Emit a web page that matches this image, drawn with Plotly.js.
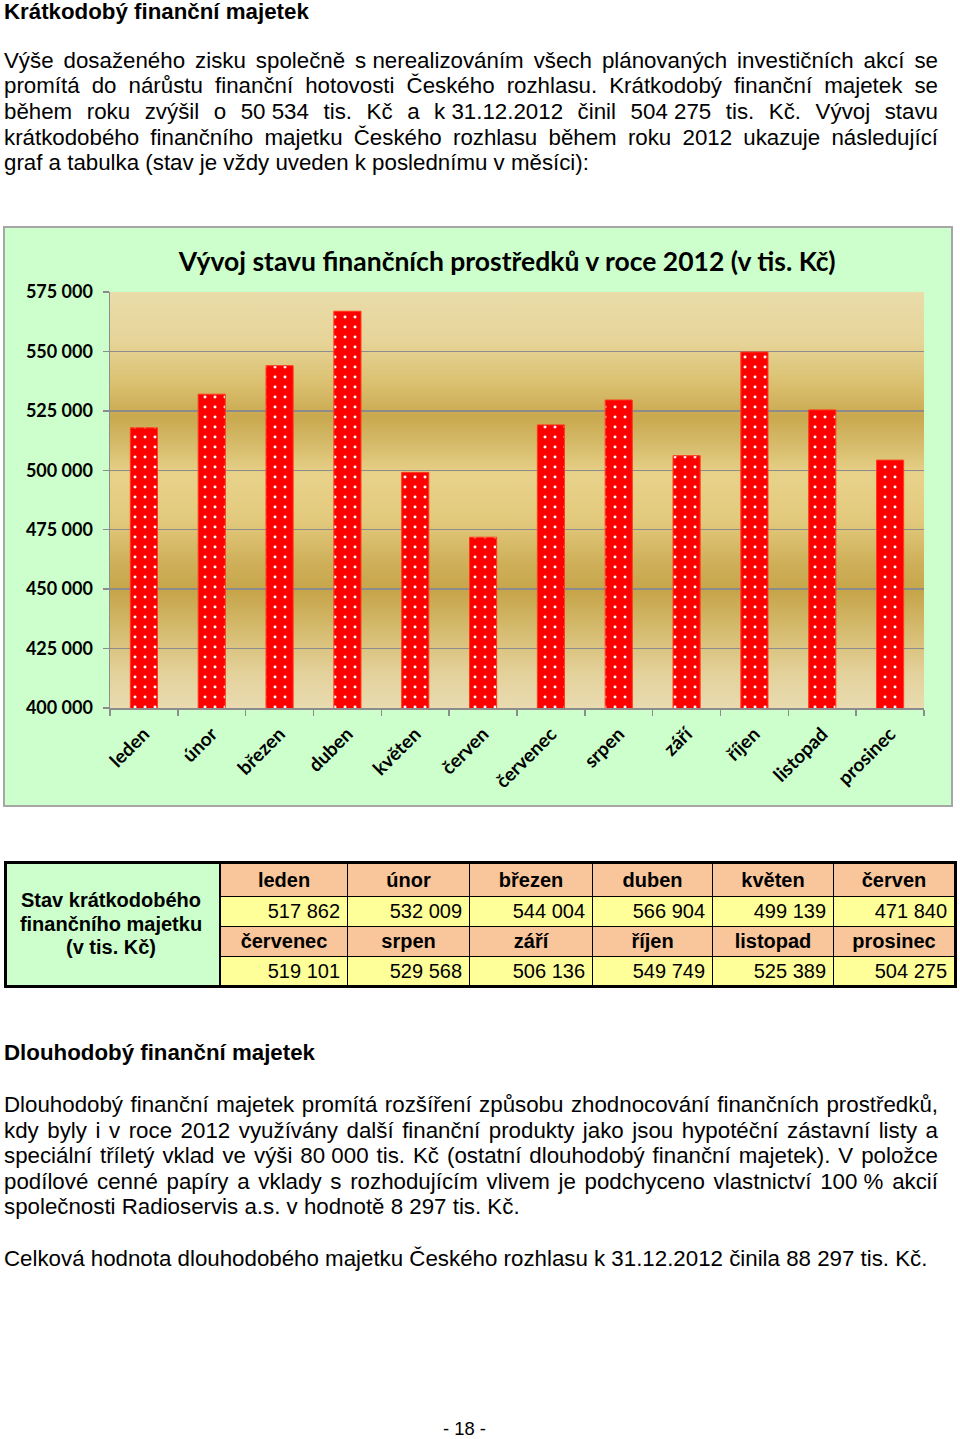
<!DOCTYPE html>
<html><head><meta charset="utf-8">
<script src="https://cdn.plot.ly/plotly-3.0.1.min.js"></script>
<style>
html,body{margin:0;padding:0}
body{width:960px;height:1439px;background:#fff;position:relative;font-family:"Liberation Sans",Arial,sans-serif;color:#000;overflow:hidden}
.ln{position:absolute;left:4px;width:934px;font-size:22.3px;line-height:25.6px;white-space:nowrap}
.j{text-align:justify;text-align-last:justify;white-space:normal}
.b{font-weight:bold}
.nb{display:inline-block;white-space:pre}
#wrap{position:absolute;left:3px;top:226px;width:946px;height:577px;border:2px solid #a6a6a6;background:#ccffcc}
#grad{position:absolute;left:105px;top:64px;width:814px;height:416px;
background:linear-gradient(to bottom,#eadcaa 0%,#e6d498 12%,#dac070 22%,#c9a94f 30%,#d6bc6c 37%,#e8d28a 44%,#e2c97c 55%,#cfb05a 65%,#c6a54a 72%,#d6bd72 82%,#e4d29c 92%,#e9dbb0 100%)}
#chart{position:absolute;left:0;top:0;width:946px;height:577px}
#tbl{position:absolute;left:4px;top:861px;width:953px;height:127px;background:#000}
.cell{position:absolute;display:flex;align-items:center;box-sizing:border-box;font-size:20px;white-space:nowrap}
.hd{background:#f9c59a;font-weight:bold;justify-content:center}
.val{background:#ffff99;justify-content:flex-end;padding-right:7px}
.lab{background:#ccffcc;font-weight:bold;justify-content:center;text-align:center;line-height:23.5px;padding-right:4px}
#foot{position:absolute;left:0;width:929px;text-align:center;font-size:18.4px;top:1418px;line-height:22px}
</style>
</head><body>
<div class="ln b" style="top:-1px">Krátkodobý finanční majetek</div>
<div class="ln j" style="top:47.5px">Výše dosaženého zisku společně <span class="nb">s nerealizováním</span> všech plánovaných investičních akcí se</div>
<div class="ln j" style="top:73px">promítá do nárůstu finanční hotovosti Českého rozhlasu. Krátkodobý finanční majetek se</div>
<div class="ln j" style="top:99px">během roku zvýšil o <span class="nb">50 534</span> tis. Kč a <span class="nb">k 31.12.2012</span> činil <span class="nb">504 275</span> tis. Kč. Vývoj stavu</div>
<div class="ln j" style="top:124.5px">krátkodobého finančního majetku Českého rozhlasu během roku 2012 ukazuje následující</div>
<div class="ln" style="top:150px">graf a tabulka (stav je vždy uveden k poslednímu v měsíci):</div>

<div id="wrap"><div id="grad"></div><div id="chart"></div></div>

<div id="tbl"></div>

<div class="ln b" style="top:1040px">Dlouhodobý finanční majetek</div>
<div class="ln j" style="top:1092px">Dlouhodobý finanční majetek promítá rozšíření způsobu zhodnocování finančních prostředků,</div>
<div class="ln j" style="top:1117.5px">kdy byly i v roce 2012 využívány další finanční produkty jako jsou hypotéční zástavní listy a</div>
<div class="ln j" style="top:1143px">speciální tříletý vklad ve výši <span class="nb">80 000</span> tis. Kč (ostatní dlouhodobý finanční majetek). V položce</div>
<div class="ln j" style="top:1168.5px">podílové cenné papíry a vklady s rozhodujícím vlivem je podchyceno vlastnictví <span class="nb">100 %</span> akcií</div>
<div class="ln" style="top:1194px">společnosti Radioservis a.s. v hodnotě 8 297 tis. Kč.</div>
<div class="ln" style="top:1245.5px">Celková hodnota dlouhodobého majetku Českého rozhlasu k 31.12.2012 činila 88 297 tis. Kč.</div>
<div id="foot">- 18 -</div>

<script>
const months = ['leden','únor','březen','duben','květen','červen','červenec','srpen','září','říjen','listopad','prosinec'];
const values = [517862, 532009, 544004, 566904, 499139, 471840, 519101, 529568, 506136, 549749, 525389, 504275];
const chartTitle = 'Vývoj stavu finančních prostředků v roce 2012 (v tis. Kč)';
const tableLabel = 'Stav krátkodobého<br>finančního majetku<br>(v tis. Kč)';

function fmt(v){ return String(v).replace(/\B(?=(\d{3})+(?!\d))/g,' '); }

// table
(function(){
  const tbl = document.getElementById('tbl');
  const ox = 4, oy = 861;
  const xb = [220,347,469,592,712,833,957];
  const yb = [861,896,926,956,988];
  const lab = document.createElement('div');
  lab.className = 'cell lab';
  lab.style.left = (7-ox)+'px'; lab.style.top = (864-oy)+'px';
  lab.style.width = (219-7)+'px'; lab.style.height = (985-864)+'px';
  lab.innerHTML = tableLabel;
  tbl.appendChild(lab);
  for (let r=0;r<4;r++){
    for (let c=0;c<6;c++){
      const d = document.createElement('div');
      const half = r<2 ? 0 : 6;
      const isHead = (r%2===0);
      d.className = 'cell ' + (isHead?'hd':'val');
      const l = xb[c]+1, rt = xb[c+1]-(c===5?3:0);
      const t = yb[r]+(r===0?3:1), b = yb[r+1]-(r===3?3:0);
      d.style.left=(l-ox)+'px'; d.style.top=(t-oy)+'px';
      d.style.width=(rt-l)+'px'; d.style.height=(b-t)+'px';
      d.textContent = isHead ? months[half+c] : fmt(values[half+c]);
      tbl.appendChild(d);
    }
  }
})();

const tickFontY = {family:'Lato, "Open Sans", sans-serif', size:18, color:'#000', weight:'bold'};
const tickFontX = {family:'Lato, "Open Sans", sans-serif', size:19, color:'#000', weight:'bold'};
const trace = {
  type:'bar', x:months, y:values,
  marker:{color:'#ff0000', line:{color:'#ff3a1a', width:1},
    pattern:{shape:'.', fillmode:'replace', bgcolor:'#ff0000', fgcolor:'#ffffff', size:10, solidity:0.07}},
  hoverinfo:'skip'
};
const layout = {
  width:946, height:577,
  margin:{l:105, r:27, t:64, b:97, pad:0},
  paper_bgcolor:'rgba(0,0,0,0)', plot_bgcolor:'rgba(0,0,0,0)',
  separators:', ',
  showlegend:false,
  bargap:0.6,
  title:{text:chartTitle, font:{family:'Lato, "Open Sans", sans-serif', size:26.5, color:'#000', weight:'bold'},
    xref:'container', x:0.5307, xanchor:'center', yref:'container', y:0.941, yanchor:'middle'},
  xaxis:{type:'category', tickson:'boundaries', ticks:'outside', ticklen:6, tickcolor:'#8c8c8c', tickwidth:1.5,
    showline:true, linecolor:'#8c8c8c', linewidth:1.5, showgrid:false, tickangle:-45, tickfont:tickFontX,
    ticklabelstandoff:6, fixedrange:true},
  yaxis:{range:[400000,575000], tick0:400000, dtick:25000, tickformat:',d', ticks:'outside', ticklen:6,
    tickcolor:'#8c8c8c', tickwidth:1.5, showline:true, linecolor:'#8c8c8c', linewidth:1.5,
    showgrid:true, gridcolor:'#8c8c8c', gridwidth:1.5, zeroline:false, tickfont:tickFontY, ticklabelstandoff:6, fixedrange:true}
};
Plotly.newPlot('chart',[trace],layout,{staticPlot:true, displayModeBar:false});
</script>
</body></html>
